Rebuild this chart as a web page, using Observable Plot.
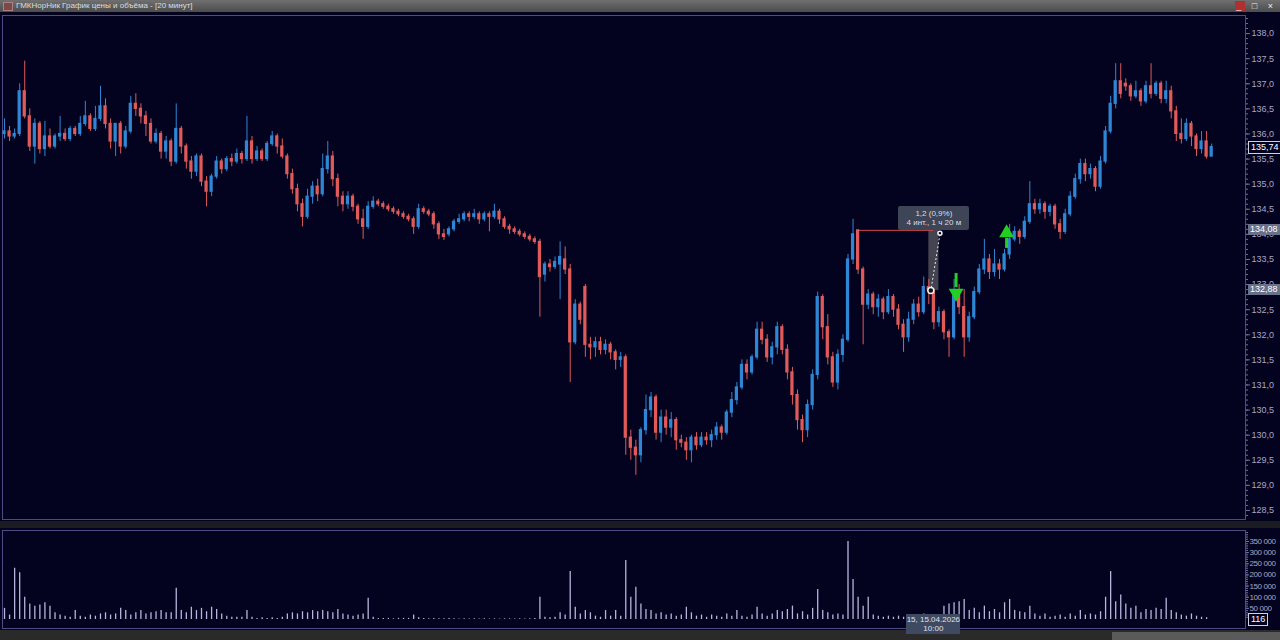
<!DOCTYPE html>
<html>
<head>
<meta charset="utf-8">
<script src="https://cdn.jsdelivr.net/npm/d3@7"></script>
<script src="https://cdn.jsdelivr.net/npm/@observablehq/plot@0.6"></script>
<style>
  body { margin: 0; width: 1280px; height: 640px; overflow: hidden; position: relative; background: #03031f; font-family: "Liberation Sans", Arial, sans-serif; }
  #titlebar { position: absolute; left: 0; top: 0; width: 1280px; height: 12px; background: linear-gradient(#707070, #4c4c4c); color: #dcdcdc; font-size: 8px; line-height: 12px; }
  #titlebar .ico { position: absolute; left: 3px; top: 2px; width: 8px; height: 7px; border: 1px solid #b08080; background: #7a4a4a; }
  #titlebar .txt { position: absolute; left: 16px; top: 0; }
  #titlebar .btns { position: absolute; right: 3px; top: 0; letter-spacing: 4px; color: #f0f0f0; font-size: 9px; }
  #titlebar .red { position: absolute; left: 1235px; top: 1px; width: 10px; height: 10px; background: #b03030; }
  .panel { position: absolute; left: 0; }
  #sep { position: absolute; left: 0; top: 521px; width: 1280px; height: 7px; background: #1b1b22; }
  #bottom { position: absolute; left: 0; top: 630px; width: 1280px; height: 10px; background: #2a2a2a; }
  #thumb { position: absolute; left: 1112px; top: 632px; width: 168px; height: 8px; background: #5a5a5a; }
  .lbl { position: absolute; font-size: 9px; line-height: 11px; padding: 0 2px; color: #fff; white-space: nowrap; }
  .boxed { border: 1px solid #d0d0e0; background: #03031f; }
  .hl { background: #68708a; }
  #tip { position: absolute; width: 71px; height: 24px; background: #3e4556; color: #dcdce4; font-size: 8px; line-height: 9px; text-align: center; padding-top: 3px; box-sizing: border-box; border-radius: 2px; }
  #date { position: absolute; width: 54px; height: 20px; background: #3d4a62; color: #e0e0e8; font-size: 8px; line-height: 9px; text-align: center; padding-top: 1px; box-sizing: border-box; }
</style>
</head>
<body>
<div id="titlebar"><div class="ico"></div><div class="txt">ГМКНорНик График цены и объёма - [20 минут]</div><div class="red"></div><div class="btns">_ □ ×</div></div>
<div id="sep"></div>
<div id="bottom"></div>
<div id="thumb"></div>
<div id="price" class="panel" style="top:15px"></div>
<div id="volume" class="panel" style="top:530px"></div>
<script>
// 20-minute candles, GMK NorNickel
const opens = [
  136.0,136.05,135.95,136.0,136.85,136.35,135.75,136.2,135.7,135.95,
  135.75,135.95,136.0,135.9,136.1,136.0,136.2,136.35,136.1,136.3,
  136.55,136.2,135.85,136.2,135.75,136.05,136.6,136.5,136.35,136.2,
  135.85,136.0,135.65,135.85,135.45,136.1,135.75,135.45,135.25,135.55,
  135.05,134.85,135.15,135.45,135.3,135.5,135.45,135.6,135.5,135.85,
  135.5,135.65,135.5,135.8,135.95,135.75,135.55,135.2,134.9,134.6,
  134.35,134.75,134.95,134.8,135.3,135.55,135.1,134.75,134.6,134.75,
  134.55,134.3,134.15,134.55,134.65,134.6,134.55,134.5,134.45,134.4,
  134.35,134.3,134.15,134.5,134.45,134.4,134.2,134.0,134.0,134.1,
  134.25,134.3,134.4,134.35,134.4,134.3,134.4,134.35,134.45,134.3,
  134.15,134.1,134.05,134.0,133.95,133.9,133.85,133.2,133.4,133.35,
  133.4,133.5,133.3,131.85,132.6,132.95,131.8,131.75,131.85,131.7,
  131.8,131.65,131.5,131.55,129.95,129.75,129.6,130.1,130.5,130.75,
  130.05,130.35,130.15,130.3,129.9,129.85,129.7,129.95,129.8,129.95,
  129.9,130.0,130.15,130.05,130.45,130.7,130.95,131.4,131.25,131.55,
  132.1,131.9,131.55,131.75,132.15,131.7,131.25,130.8,130.3,130.1,
  130.6,131.2,132.75,132.15,131.55,131.05,131.6,131.9,133.5,134.08,
  133.3,132.6,132.8,132.55,132.7,132.45,132.75,132.5,132.2,131.95,
  132.3,132.6,132.45,132.95,132.88,132.25,132.45,132.05,131.95,132.85,
  132.55,131.95,132.35,132.85,133.3,133.5,133.25,133.4,133.3,133.6,
  133.9,134.05,133.95,134.25,134.6,134.5,134.6,134.45,134.55,134.2,
  134.05,134.4,134.75,135.1,135.4,135.2,135.3,134.95,135.45,136.05,
  136.6,137.05,137.0,136.95,136.75,136.85,136.65,136.95,136.8,137.0,
  136.7,136.85,136.45,136.0,135.9,136.2,135.95,135.7,135.85,135.55
];
const highs = [
  136.3,136.15,136.1,137.0,137.45,136.5,136.3,136.25,136.25,136.1,
  136.0,136.35,136.1,136.15,136.15,136.35,136.65,136.4,136.55,136.95,
  136.7,136.3,136.2,136.25,136.15,136.75,136.8,136.6,136.45,136.3,
  136.1,136.05,135.95,135.9,136.6,136.15,135.8,135.55,135.6,135.6,
  135.15,135.2,135.55,135.5,135.55,135.6,135.7,135.65,136.35,135.95,
  135.75,135.7,135.85,136.05,136.0,135.9,135.6,135.3,135.0,134.7,
  134.9,135.05,135.1,135.6,135.85,135.65,135.2,134.85,134.85,134.8,
  134.6,134.5,134.65,134.75,134.7,134.65,134.6,134.55,134.5,134.45,
  134.4,134.35,134.6,134.55,134.5,134.45,134.25,134.1,134.15,134.3,
  134.4,134.45,134.45,134.5,134.45,134.45,134.45,134.6,134.5,134.35,
  134.2,134.15,134.1,134.05,134.0,133.95,133.9,133.45,133.5,133.55,
  133.85,133.75,133.4,132.7,132.65,133.0,131.95,131.95,131.95,131.9,
  131.85,131.7,131.65,131.6,130.1,129.9,130.15,130.8,130.85,130.8,
  130.5,130.5,130.45,130.35,130.0,129.95,130.0,130.05,130.05,130.05,
  130.1,130.25,130.2,130.5,130.85,131.05,131.5,131.5,131.6,132.25,
  132.25,132.0,131.85,132.25,132.2,131.8,131.35,130.9,130.4,130.7,
  131.3,132.85,132.8,132.4,131.65,131.7,132.0,133.6,134.3,134.08,
  133.35,132.9,132.85,132.8,132.75,132.9,132.8,132.6,132.3,132.45,
  132.7,132.75,133.15,133.1,132.9,132.55,132.5,132.1,133.1,133.0,
  132.9,132.45,132.95,133.4,133.9,133.6,133.7,133.5,133.7,134.2,
  134.15,134.1,134.35,135.05,134.7,134.7,134.65,134.6,134.6,134.3,
  134.5,134.85,135.2,135.5,135.5,135.4,135.35,135.55,136.15,136.75,
  137.4,137.4,137.1,137.0,137.05,136.9,137.05,137.4,137.05,137.05,
  137.05,136.95,136.55,136.3,136.3,136.25,136.0,136.05,136.05,135.8
];
const lows = [
  135.9,135.85,135.9,135.95,136.3,135.65,135.4,135.6,135.55,135.7,
  135.7,135.85,135.85,135.85,135.95,135.95,136.15,136.05,136.05,136.25,
  136.1,135.7,135.55,135.6,135.7,136.0,136.35,136.2,135.95,135.8,
  135.8,135.5,135.5,135.35,135.4,135.6,135.3,135.1,135.15,134.95,
  134.55,134.75,135.1,135.2,135.25,135.35,135.4,135.4,135.45,135.4,
  135.45,135.45,135.45,135.75,135.6,135.5,135.1,134.8,134.45,134.15,
  134.3,134.6,134.65,134.75,135.2,134.95,134.55,134.45,134.5,134.45,
  134.2,133.9,134.1,134.5,134.55,134.5,134.45,134.4,134.35,134.3,
  134.25,134.0,134.1,134.4,134.35,134.1,133.9,133.88,133.95,134.05,
  134.2,134.25,134.25,134.3,134.2,134.25,134.05,134.3,134.2,134.1,
  134.0,134.0,133.95,133.9,133.85,133.8,132.35,133.05,133.25,133.3,
  132.7,133.2,131.05,131.8,132.2,131.55,131.5,131.55,131.6,131.6,
  131.5,131.3,131.35,129.6,129.5,129.2,129.45,130.0,130.35,129.9,
  129.85,130.0,129.95,129.7,129.75,129.5,129.45,129.7,129.75,129.8,
  129.75,129.9,129.9,130.0,130.35,130.6,130.9,131.1,131.2,131.5,
  131.8,131.45,131.4,131.6,131.6,131.1,130.6,130.1,129.85,129.95,
  130.5,131.1,131.9,131.4,130.95,130.9,131.45,131.85,133.4,133.2,
  131.8,132.5,132.4,132.35,132.3,132.4,132.35,132.1,131.65,131.85,
  132.2,132.35,132.4,132.6,132.1,132.15,131.9,131.55,131.9,132.4,
  131.55,131.85,132.3,132.8,133.2,133.1,133.15,133.1,133.25,133.5,
  133.85,133.8,133.9,134.2,134.4,134.4,134.3,134.35,134.1,133.9,
  134.0,134.35,134.7,135.0,135.05,135.1,134.85,134.9,135.4,136.0,
  136.5,136.7,136.85,136.65,136.7,136.55,136.6,136.7,136.75,136.6,
  136.6,136.3,135.85,135.8,135.85,135.75,135.55,135.6,135.5,135.55
];
const closes = [
  136.05,135.95,136.0,136.85,136.35,135.75,136.2,135.7,135.95,135.75,
  135.95,136.0,135.9,136.1,136.0,136.2,136.35,136.1,136.3,136.55,
  136.2,135.85,136.2,135.75,136.05,136.6,136.5,136.35,136.2,135.85,
  136.0,135.65,135.85,135.45,136.1,135.75,135.45,135.25,135.55,135.05,
  134.85,135.15,135.45,135.3,135.5,135.45,135.6,135.5,135.85,135.5,
  135.65,135.5,135.8,135.95,135.75,135.55,135.2,134.9,134.6,134.35,
  134.75,134.95,134.8,135.3,135.55,135.1,134.75,134.6,134.75,134.55,
  134.3,134.15,134.55,134.65,134.6,134.55,134.5,134.45,134.4,134.35,
  134.3,134.15,134.5,134.45,134.4,134.2,134.0,133.95,134.1,134.25,
  134.3,134.4,134.35,134.4,134.3,134.4,134.35,134.45,134.3,134.15,
  134.1,134.05,134.0,133.95,133.9,133.85,133.15,133.4,133.35,133.45,
  133.55,133.3,131.85,132.6,132.3,131.8,131.75,131.85,131.7,131.8,
  131.65,131.5,131.55,129.95,129.75,129.6,130.1,130.5,130.75,130.05,
  130.35,130.15,130.3,129.9,129.85,129.7,129.95,129.8,129.95,129.9,
  130.0,130.15,130.05,130.45,130.7,130.95,131.4,131.25,131.55,132.1,
  131.9,131.55,131.75,132.15,131.7,131.25,130.8,130.3,130.1,130.6,
  131.2,132.75,132.15,131.55,131.05,131.6,131.9,133.5,134.0,133.3,
  132.6,132.8,132.55,132.7,132.45,132.75,132.5,132.2,131.95,132.3,
  132.6,132.45,132.95,132.88,132.25,132.45,132.05,131.95,132.85,132.55,
  131.95,132.35,132.85,133.3,133.5,133.25,133.4,133.3,133.6,133.9,
  134.05,133.95,134.25,134.6,134.5,134.6,134.45,134.55,134.2,134.05,
  134.4,134.75,135.1,135.4,135.2,135.3,134.95,135.45,136.05,136.6,
  137.05,136.8,136.95,136.75,136.85,136.65,136.95,136.8,137.0,136.7,
  136.85,136.45,136.0,135.9,136.2,135.95,135.7,135.85,135.55,135.74
];
const volumes = [
  50000,20000,230000,210000,100000,70000,60000,65000,75000,60000,
  30000,20000,15000,10000,40000,15000,10000,20000,15000,25000,
  30000,20000,25000,50000,40000,20000,30000,40000,25000,30000,
  35000,40000,30000,30000,140000,40000,30000,55000,40000,50000,
  35000,55000,45000,25000,15000,10000,10000,10000,40000,10000,
  5000,8000,5000,8000,5000,10000,25000,30000,25000,35000,
  30000,40000,35000,40000,35000,30000,45000,25000,20000,15000,
  20000,25000,95000,10000,5000,5000,5000,3000,5000,5000,
  5000,20000,8000,5000,3000,5000,3000,3000,5000,3000,
  2000,3000,2000,3000,2000,3000,2000,3000,2000,3000,
  3000,2000,3000,2000,3000,5000,100000,10000,8000,10000,
  30000,20000,215000,55000,25000,40000,30000,15000,10000,40000,
  15000,40000,15000,265000,100000,145000,70000,45000,40000,25000,
  30000,20000,25000,15000,20000,55000,30000,15000,20000,10000,
  20000,15000,10000,25000,15000,40000,15000,10000,20000,55000,
  25000,15000,25000,40000,35000,45000,60000,25000,35000,20000,
  50000,135000,40000,30000,20000,25000,20000,350000,180000,100000,
  60000,100000,20000,15000,10000,15000,10000,15000,10000,20000,
  15000,20000,25000,20000,15000,10000,60000,70000,75000,80000,
  90000,40000,50000,30000,60000,35000,45000,30000,75000,90000,
  40000,35000,30000,60000,25000,15000,25000,10000,15000,20000,
  10000,25000,15000,40000,20000,25000,20000,35000,100000,215000,
  80000,110000,70000,50000,60000,30000,45000,40000,50000,45000,
  95000,40000,30000,20000,15000,25000,15000,10000,8000,116
];

// axis ticks
const priceTicks = [128.5,129.0,129.5,130.0,130.5,131.0,131.5,132.0,132.5,133.0,133.5,134.0,134.5,135.0,135.5,136.0,136.5,137.0,137.5,138.0];
const volumeTicks = [50000,100000,150000,200000,250000,300000,350000];

// measuring tool and signals
const measureIdx = [169, 183.4];
const measurePrice = [134.08, 132.88];
const measureText = ["1,2 (0,9%)", "4 инт., 1 ч 20 м"];
const sellSignal = {i: 188.4, top: 133.22, tip: 132.74};
const buySignal = {i: 198.4, top: 134.12, tail: 133.72};
const lastPrice = 135.74;
const markedPrices = [134.08, 132.88];
const cursorIdx = 184;
const cursorLabel = ["15, 15.04.2026", "10:00"];

const UP = "#2f86d4";
const DOWN = "#e05a5a";
const AXIS = "#6e6ea0";
const TEXT = "#a6a6c6";
const GREEN = "#22d022";

const candles = closes.map((c, i) => ({i, open: opens[i], high: highs[i], low: lows[i], close: c}));
const vols = volumes.map((v, i) => ({i, v}));

const fmtPrice = d => d.toFixed(1).replace(".", ",");
const fmtVol = d => d3.format(",")(d).replace(/,/g, " ");
const xDomain = [-0.4, 245.7];

const common = {
  width: 1280,
  marginLeft: 2,
  marginRight: 35,
  marginTop: 0,
  marginBottom: 0,
  x: {domain: xDomain, axis: null},
  style: {background: "transparent", color: TEXT, fontFamily: "Liberation Sans, Arial, sans-serif", fontSize: "9px", overflow: "visible"}
};

const priceChart = Plot.plot({
  ...common,
  height: 504,
  y: {domain: [128.32, 138.36], axis: null},
  marks: [
    Plot.frame({stroke: "#4c4c82"}),
    Plot.axisY({anchor: "right", ticks: d3.range(128.4, 138.35, 0.1), tickSize: 2, tickFormat: () => "", stroke: AXIS, label: null}),
    Plot.axisY({anchor: "right", ticks: priceTicks, tickSize: 4, tickPadding: 2, tickFormat: fmtPrice, stroke: AXIS, fill: TEXT, label: null}),
    // measuring bar
    Plot.rect([0], {x1: 183, x2: 185, y1: measurePrice[1], y2: measurePrice[0], fill: "#55555c", fillOpacity: 0.8}),
    Plot.ruleY([measurePrice[0]], {x1: measureIdx[0], x2: 184, stroke: "#d04a4a"}),
    // candles
    Plot.ruleX(candles, {x: "i", y1: "low", y2: "high", stroke: d => d.close >= d.open ? UP : DOWN, strokeWidth: 1}),
    Plot.rect(candles, {
      x1: d => d.i - 0.32, x2: d => d.i + 0.32,
      y1: d => Math.min(d.open, d.close), y2: d => Math.max(d.open, d.close),
      fill: d => d.close >= d.open ? UP : DOWN, insetTop: -0.6, insetBottom: -0.6
    }),
    // measuring line
    Plot.link([0], {x1: 185.2, y1: 134.0, x2: measureIdx[1], y2: measurePrice[1], stroke: "#e8e8e8", strokeDasharray: "2,2", strokeWidth: 1}),
    Plot.dot([0], {x: measureIdx[1], y: measurePrice[1], r: 3, stroke: "#f0f0f0", fill: "#101018"}),
    Plot.dot([0], {x: 185.2, y: 134.02, r: 2, stroke: "#f0f0f0", fill: "none"}),
    // signal arrows
    Plot.ruleX([sellSignal], {x: "i", y1: "top", y2: d => d.tip + 0.2, stroke: GREEN, strokeWidth: 3}),
    Plot.dot([sellSignal], {x: "i", y: d => d.tip + 0.09, symbol: "triangle", rotate: 180, r: 5.5, fill: GREEN, stroke: "none"}),
    Plot.ruleX([buySignal], {x: "i", y1: "tail", y2: d => d.top - 0.2, stroke: GREEN, strokeWidth: 3}),
    Plot.dot([buySignal], {x: "i", y: d => d.top - 0.09, symbol: "triangle", r: 5.5, fill: GREEN, stroke: "none"})
  ]
});
document.getElementById("price").appendChild(priceChart);

const volumeChart = Plot.plot({
  ...common,
  height: 98,
  y: {domain: [-40400, 399400], axis: null},
  marks: [
    Plot.frame({stroke: "#4c4c82"}),
    Plot.axisY({anchor: "right", ticks: d3.range(10000, 391000, 10000), tickSize: 2, tickFormat: () => "", stroke: AXIS, label: null}),
    Plot.axisY({anchor: "right", ticks: volumeTicks, tickSize: 3, tickPadding: 1, tickFormat: fmtVol, stroke: AXIS, fill: TEXT, fontSize: 8, label: null}),
    Plot.ruleX(vols, {x: "i", y1: 0, y2: "v", stroke: "#b6b6de", strokeWidth: 1.3})
  ]
});
volumeChart.style.letterSpacing = "-0.4px";
document.getElementById("volume").appendChild(volumeChart);

// overlays positioned through the plot scales
const px = priceChart.scale("x");
const py = priceChart.scale("y");
const vy = volumeChart.scale("y");

function addLabel(text, cls, top, left) {
  const el = document.createElement("div");
  el.className = "lbl " + cls;
  el.textContent = text;
  el.style.top = top + "px";
  el.style.left = left + "px";
  document.body.appendChild(el);
  return el;
}
addLabel(lastPrice.toFixed(2).replace(".", ","), "boxed", 15 + py.apply(lastPrice) - 6, 1248);
for (const p of markedPrices) addLabel(p.toFixed(2).replace(".", ","), "hl", 15 + py.apply(p) - 6, 1248);
addLabel(String(volumes[volumes.length - 1]), "boxed", 530 + vy.apply(volumes[volumes.length - 1]) - 6, 1248);

const tip = document.createElement("div");
tip.id = "tip";
tip.innerHTML = measureText.join("<br>");
tip.style.left = (px.apply(184) - 35) + "px";
tip.style.top = (15 + py.apply(measurePrice[0]) - 24) + "px";
document.body.appendChild(tip);

const date = document.createElement("div");
date.id = "date";
date.innerHTML = cursorLabel.join("<br>");
date.style.left = (px.apply(cursorIdx) - 27) + "px";
date.style.top = "614px";
document.body.appendChild(date);
</script>
</body>
</html>
